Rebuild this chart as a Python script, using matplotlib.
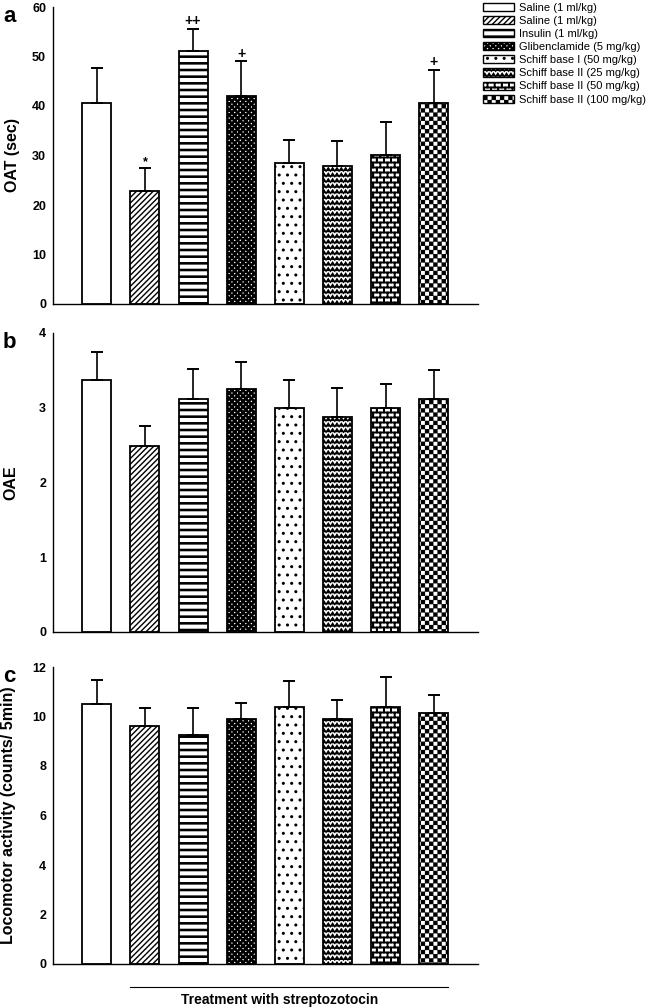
import warnings
warnings.filterwarnings('ignore')
import numpy as np
import matplotlib
matplotlib.use('Agg')
import matplotlib.pyplot as plt
import matplotlib.hatch as mhatch
import matplotlib.transforms as mtrans
from matplotlib.path import Path
from matplotlib.patches import Patch

# ---------------- data ----------------
groups = ['Saline (1 ml/kg)', 'Saline (1 ml/kg)', 'Insulin (1 ml/kg)',
          'Glibenclamide (5 mg/kg)', 'Schiff base I (50 mg/kg)',
          'Schiff base II (25 mg/kg)', 'Schiff base II (50 mg/kg)',
          'Schiff base II (100 mg/kg)']
oat_mean = [40.7, 22.9, 51.1, 42.1, 28.4, 27.9, 30.2, 40.7]
oat_sem = [6.9, 4.5, 4.5, 6.9, 4.7, 5.1, 6.6, 6.6]
oat_marks = ['', '*', '++', '+', '', '', '', '+']
oae_mean = [3.37, 2.49, 3.12, 3.25, 3.00, 2.87, 3.00, 3.12]
oae_sem = [0.38, 0.27, 0.40, 0.36, 0.37, 0.40, 0.32, 0.39]
loco_mean = [10.51, 9.62, 9.26, 9.88, 10.39, 9.88, 10.39, 10.15]
loco_sem = [0.98, 0.73, 1.09, 0.67, 1.06, 0.77, 1.19, 0.72]
xlabel_text = 'Treatment with streptozotocin'


def _rect(vertices, codes, k, x0, y0, x1, y1):
    vertices[k:k + 5] = [(x0, y0), (x1, y0), (x1, y1), (x0, y1), (x0, y0)]
    codes[k] = Path.MOVETO
    codes[k + 1:k + 4] = Path.LINETO
    codes[k + 4] = Path.CLOSEPOLY
    return k + 5


# ---------------- custom hatches ----------------
class ZigZagHatch(mhatch.HatchPatternBase):
    def __init__(self, hatch, density):
        self.num_rows = int(hatch.count('z') * density)
        self.num_teeth = int(self.num_rows * 1.3)
        self.per = 2 * self.num_teeth + 1
        self.num_vertices = self.num_rows * self.per if self.num_rows else 0

    def set_vertices_and_codes(self, vertices, codes):
        n, per = self.num_rows, self.per
        xs = np.linspace(0, 1, per)
        amp = 0.3 / n
        offs = np.where(np.arange(per) % 2 == 0, -amp, amp)
        for r in range(n):
            y = (r + 0.5) / n
            vertices[r * per:(r + 1) * per, 0] = xs
            vertices[r * per:(r + 1) * per, 1] = y + offs
            codes[r * per] = Path.MOVETO
            codes[r * per + 1:(r + 1) * per] = Path.LINETO


class BrickHatch(mhatch.HatchPatternBase):
    def __init__(self, hatch, density):
        n = int(hatch.count('b') * 5)
        n += n % 2
        self.num_rows = n
        self.num_bricks = max(1, int(round(n * 0.7))) if n else 0
        self.num_vertices = 5 * n + 5 * (n + 1) * self.num_bricks if n else 0

    def set_vertices_and_codes(self, vertices, codes):
        n, m = self.num_rows, self.num_bricks
        t = 0.0025
        k = 0
        for r in range(n):
            y = (r + 0.5) / n
            k = _rect(vertices, codes, k, -0.01, y - t, 1.01, y + t)
        for r in range(-1, n):
            y0 = (r + 0.5) / n
            y1 = (r + 1.5) / n
            off = 0.5 if r % 2 else 0.0
            for i in range(m):
                xx = (i + off + 0.25) / m
                k = _rect(vertices, codes, k, xx - t, y0, xx + t, y1)


class HLineHatch(mhatch.HatchPatternBase):
    def __init__(self, hatch, density):
        self.num_lines = int(hatch.count('h') * 5)
        self.num_vertices = self.num_lines * 5

    def set_vertices_and_codes(self, vertices, codes):
        n = self.num_lines
        t = 0.09 / n
        k = 0
        for r in range(n):
            y = (r + 0.5) / n
            k = _rect(vertices, codes, k, -0.01, y - t, 1.01, y + t)


class CheckerHatch(mhatch.HatchPatternBase):
    """'c' = full-size black checker squares, 'k' = smaller squares."""
    def __init__(self, hatch, density):
        nc = hatch.count('c')
        nk = hatch.count('k')
        self.frac = 0.5 if nc else 0.36
        n = int((nc + nk) * density)
        n += n % 2
        self.n = n
        self.cells = [(i, j) for i in range(-1, n + 1) for j in range(-1, n + 1)
                      if (i + j) % 2 == 0] if n else []
        self.num_vertices = 5 * len(self.cells)

    def set_vertices_and_codes(self, vertices, codes):
        n = self.n
        s = self.frac / n
        k = 0
        for i, j in self.cells:
            cx = (i + 0.5) / n
            cy = (j + 0.5) / n
            k = _rect(vertices, codes, k, cx - s, cy - s, cx + s, cy + s)


mhatch._hatch_types.extend([ZigZagHatch, BrickHatch, HLineHatch, CheckerHatch])

plt.rcParams['font.family'] = ['Liberation Sans', 'DejaVu Sans']
plt.rcParams['hatch.linewidth'] = 1.0

hatches = ['', '//////', 'hhh', 'cccccc', '..', 'zzz', 'bbbb', 'kkkk']

W, H = 649, 1008
fig = plt.figure(figsize=(W / 100, H / 100), dpi=100)

left = 53 / W
width = (478 - 53) / W
panels = [
    (7, 304, oat_mean, oat_sem, 60, 10, 'OAT (sec)', 'a', -0.078),
    (333, 632, oae_mean, oae_sem, 4, 1, 'OAE', 'b', -0.082),
    (667, 964, loco_mean, loco_sem, 12, 2, 'Locomotor activity (counts/ 5min)', 'c', -0.088),
]
x = np.arange(1, len(groups) + 1)
axes = []
for (top, bot, mean, sem, ymax, ystep, ylab, letter, lx) in panels:
    ax = fig.add_axes([left, 1 - bot / H, width, (bot - top) / H])
    axes.append(ax)
    bars = ax.bar(x, mean, width=0.6, color='white', edgecolor='black',
                  linewidth=1.3, zorder=2)
    for b, h in zip(bars, hatches):
        b.set_hatch(h)
    ax.errorbar(x, mean, yerr=[np.zeros(len(sem)), sem], fmt='none',
                ecolor='black', elinewidth=1.2, capsize=4, capthick=1.4,
                zorder=3)
    ax.set_xlim(0.09, 8.92)
    ax.set_ylim(0, ymax)
    ax.set_yticks(np.arange(0, ymax + ystep / 2, ystep))
    ax.set_xticks([])
    ax.tick_params(axis='y', length=0, pad=5, labelsize=9)
    for t in ax.get_yticklabels():
        t.set_fontweight('bold')
    for s in ['top', 'right']:
        ax.spines[s].set_visible(False)
    for s in ['left', 'bottom']:
        ax.spines[s].set_linewidth(1.0)
    ax.set_ylabel(ylab, fontsize=11.5, fontweight='bold')
    ax.yaxis.set_label_coords(lx, 0.5)
    fig.text(3 / W, 1 - top / H + 0.001, letter, fontsize=16, fontweight='bold',
             ha='left', va='top')

# significance marks on panel a
for xi, m, s, mk in zip(x, oat_mean, oat_sem, oat_marks):
    if mk:
        axes[0].annotate(mk, (xi, m + s), xytext=(0, 0.5), textcoords='offset points',
                         ha='center', va='bottom', fontsize=10 if mk != '*' else 9,
                         fontweight='bold')

# treatment line and label under panel c
axc = axes[2]
tr = mtrans.blended_transform_factory(axc.transData, axc.transAxes)
axc.plot([x[1] - 0.3, x[-1] + 0.3], [-0.077, -0.077], color='black', lw=0.8,
         transform=tr, clip_on=False)
axc.text(4.8, -0.122, xlabel_text, transform=tr, ha='center', va='center',
         fontsize=10, fontweight='bold')

handles = [Patch(facecolor='white', edgecolor='black', hatch=h, linewidth=1.0)
           for h in hatches]
fig.legend(handles, groups, loc='upper left', bbox_to_anchor=(480 / W, 1.0),
           frameon=False, fontsize=8, handlelength=2.8, handleheight=0.75,
           handletextpad=0.5, labelspacing=0.28, borderaxespad=0, borderpad=0.25)

fig.savefig('out.png', dpi=100)
